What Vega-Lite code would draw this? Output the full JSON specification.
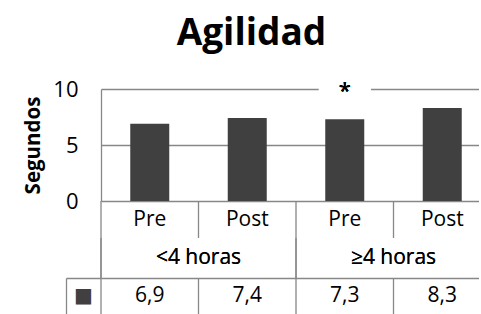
{
  "$schema": "https://vega.github.io/schema/vega-lite/v6.json",
  "padding": {"left": 23, "top": 15, "right": 0, "bottom": 0},
  "bounds": "flush",
  "spacing": 0,
  "config": {
    "view": {"stroke": null},
    "font": "Open Sans",
    "locale": {"number": {"decimal": ",", "thousands": ".", "grouping": [3], "currency": ["", " €"]}},
    "text": {"font": "Open Sans", "fontSize": 21, "color": "#000000"},
    "rule": {"color": "#878787", "strokeWidth": 1.3}
  },
  "title": {"text": "Agilidad", "font": "Open Sans", "fontSize": 37, "fontWeight": "bold", "color": "#000000", "anchor": "middle", "offset": 25, "frame": "bounds"},
  "data": {"values": [
    {"cond": "Pre <4", "fase": "Pre", "grupo": "<4 horas", "valor": 6.9},
    {"cond": "Post <4", "fase": "Post", "grupo": "<4 horas", "valor": 7.4},
    {"cond": "Pre ≥4", "fase": "Pre", "grupo": "≥4 horas", "valor": 7.3},
    {"cond": "Post ≥4", "fase": "Post", "grupo": "≥4 horas", "valor": 8.3}
  ]},
  "vconcat": [
    {
      "width": 378,
      "height": 112,
      "layer": [
        {
          "mark": {"type": "bar", "color": "#404040", "width": {"band": 0.4}},
          "encoding": {
            "x": {"field": "cond", "type": "nominal", "sort": null, "scale": {"range": [0, 390], "paddingInner": 0, "paddingOuter": 0}, "axis": null},
            "y": {"field": "valor", "type": "quantitative", "scale": {"domain": [0, 10]},
              "axis": {"values": [0, 5, 10], "grid": true, "gridColor": "#878787", "gridWidth": 1.3, "domainColor": "#878787", "domainWidth": 1.3, "ticks": false,
                "labelPadding": 23, "labelFontSize": 22, "labelColor": "#000000", "labelFont": "Open Sans",
                "title": "Segundos", "titleFont": "Open Sans", "titleFontSize": 20.5, "titleFontWeight": "bold", "titleColor": "#000000", "titlePadding": 9}}
          }
        },
        {
          "mark": {"type": "bar", "color": "#ffffff", "width": {"band": 0.53}},
          "encoding": {
            "x": {"datum": "Pre ≥4", "type": "nominal"},
            "y": {"datum": 9.7, "type": "quantitative"},
            "y2": {"datum": 10.3}
          }
        },
        {
          "mark": {"type": "text", "fontSize": 22, "baseline": "middle", "dy": 2},
          "encoding": {
            "x": {"datum": "Pre ≥4", "type": "nominal"},
            "y": {"datum": 10, "type": "quantitative"},
            "text": {"value": "*"}
          }
        }
      ]
    },
    {
      "width": 378,
      "height": 37,
      "layer": [
        {
          "mark": {"type": "text"},
          "encoding": {
            "x": {"field": "cond", "type": "nominal", "sort": null, "scale": {"range": [0, 390], "paddingInner": 0, "paddingOuter": 0}, "axis": null},
            "text": {"field": "fase"}
          }
        },
        {
          "mark": {"type": "rule"},
          "encoding": {
            "x": {"field": "cond", "type": "nominal", "sort": null, "bandPosition": 0, "axis": null}
          }
        }
      ]
    },
    {
      "width": 378,
      "height": 40,
      "layer": [
        {
          "mark": {"type": "text"},
          "encoding": {
            "x": {"field": "grupo", "type": "nominal", "sort": null, "scale": {"range": [0, 390], "paddingInner": 0, "paddingOuter": 0}, "axis": null},
            "text": {"field": "grupo"}
          }
        },
        {
          "mark": {"type": "rule"},
          "encoding": {
            "x": {"field": "grupo", "type": "nominal", "sort": null, "bandPosition": 0, "axis": null}
          }
        }
      ]
    },
    {
      "width": 378,
      "height": 36,
      "layer": [
        {
          "mark": {"type": "text"},
          "encoding": {
            "x": {"field": "cond", "type": "nominal", "sort": null, "scale": {"range": [0, 390], "paddingInner": 0, "paddingOuter": 0}, "axis": null},
            "y": {"datum": "■", "type": "nominal", "scale": {"type": "band", "paddingInner": 0, "paddingOuter": 0},
              "axis": {"orient": "left", "offset": 35, "title": null, "bandPosition": 0,
                "domain": true, "domainColor": "#878787", "domainWidth": 1.3,
                "ticks": true, "tickSize": -35, "tickColor": "#878787", "tickWidth": 1.3,
                "grid": true, "gridColor": "#878787", "gridWidth": 1.3,
                "labelAlign": "center", "labelBaseline": "middle", "labelPadding": 18, "labelOffset": 0, "labelFont": "DejaVu Sans", "labelFontSize": 20, "labelColor": "#404040"}},
            "text": {"field": "valor", "type": "quantitative", "format": ".1f"}
          }
        },
        {
          "mark": {"type": "rule"},
          "encoding": {
            "x": {"field": "cond", "type": "nominal", "sort": null, "bandPosition": 0, "axis": null}
          }
        }
      ]
    }
  ]
}
